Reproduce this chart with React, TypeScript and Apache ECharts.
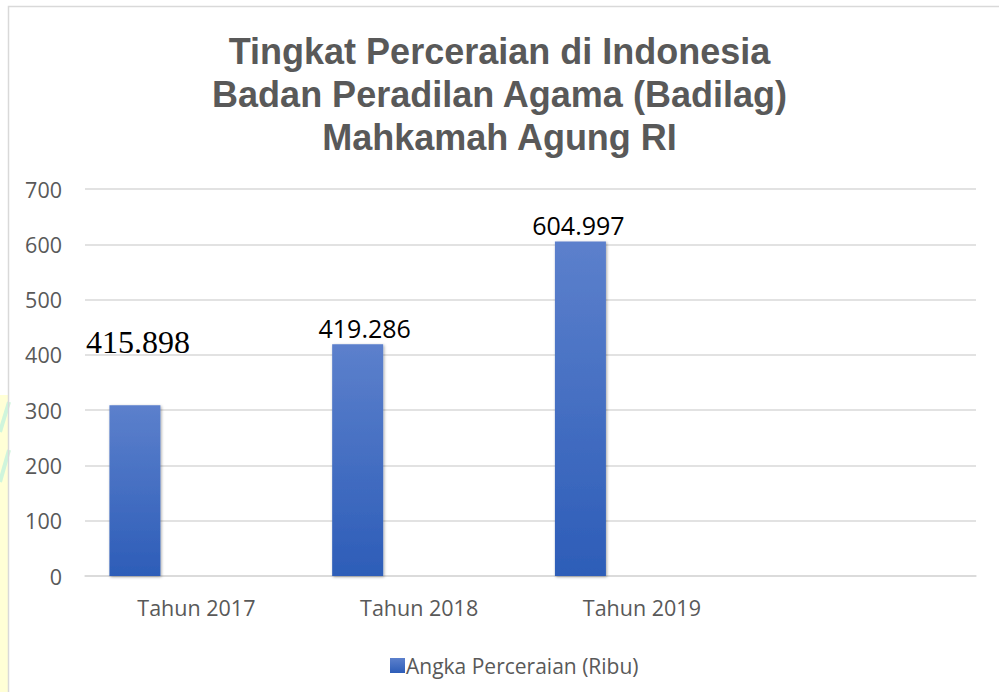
import React, { useEffect, useRef } from "react";
import * as echarts from "echarts";

const titleLines = [
  "Tingkat Perceraian di Indonesia",
  "Badan Peradilan Agama (Badilag)",
  "Mahkamah Agung RI",
];
const categories = ["Tahun 2017", "Tahun 2018", "Tahun 2019", ""];
const barValues = [309, 419.286, 604.997, null];
const labelTexts = ["415.898", "419.286", "604.997", ""];
const seriesName = "Angka Perceraian (Ribu)";
const yTicks = { min: 0, max: 700, interval: 100 };

export default function App() {
  const ref = useRef<HTMLDivElement>(null);
  useEffect(() => {
    if (!ref.current) return;
    const chart = echarts.init(ref.current, null, { renderer: "svg" });
    const grad = new echarts.graphic.LinearGradient(0, 0, 0, 1, [
      { offset: 0, color: "#5C80CC" },
      { offset: 1, color: "#2D5DB8" },
    ]);
    const labelOffsets: [number, number][] = [
      [3, -43],
      [7, 0],
      [-2, 0],
      [0, 0],
    ];
    const data = barValues.map((v, i) => {
      const item: any = { value: v };
      if (i === 0) {
        item.label = {
          fontFamily: "Liberation Serif",
          fontSize: 32,
          offset: labelOffsets[i],
        };
      } else {
        item.label = { offset: labelOffsets[i] };
      }
      return item;
    });
    chart.setOption({
      animation: false,
      backgroundColor: "#ffffff",
      title: {
        text: titleLines.join("\n"),
        left: "center",
        top: 25,
        textStyle: {
          fontFamily: "Liberation Sans",
          fontWeight: "bold",
          fontSize: 36,
          lineHeight: 43,
          color: "#595959",
        },
      },
      graphic: [
        {
          type: "rect",
          shape: { x: 0, y: 395, width: 8, height: 300 },
          style: { fill: "#FFFFD6" },
          z: -1,
        },
        {
          type: "line",
          shape: { x1: 9, y1: 402, x2: 0, y2: 432 },
          style: { stroke: "#CFF5DC", lineWidth: 4 },
          z: -1,
        },
        {
          type: "line",
          shape: { x1: 9, y1: 450, x2: 0, y2: 482 },
          style: { stroke: "#CFF5DC", lineWidth: 4 },
          z: -1,
        },
        {
          type: "rect",
          shape: { x: 8.5, y: 6.5, width: 1200, height: 1000 },
          style: { fill: "none", stroke: "#d9d9d9", lineWidth: 1.5 },
        },
      ],
      legend: {
        data: [seriesName],
        left: 385,
        top: 650,
        icon: "rect",
        itemWidth: 15,
        itemHeight: 15,
        itemGap: 10,
        textStyle: {
          fontFamily: "Open Sans",
          fontSize: 21,
          color: "#595959",
          padding: [0, 0, 0, -4],
        },
      },
      grid: { left: 85, right: 23, top: 189, bottom: 116 },
      xAxis: {
        type: "category",
        data: categories,
        axisLine: { lineStyle: { color: "#d9d9d9", width: 1.5 } },
        axisTick: { show: false },
        axisLabel: {
          fontFamily: "Open Sans",
          fontSize: 21.5,
          color: "#595959",
          margin: 20,
        },
      },
      yAxis: {
        type: "value",
        min: yTicks.min,
        max: yTicks.max,
        interval: yTicks.interval,
        axisLine: { show: false },
        axisTick: { show: false },
        splitLine: { lineStyle: { color: "#d9d9d9", width: 1.5 } },
        axisLabel: {
          fontFamily: "Open Sans",
          fontSize: 21.5,
          color: "#595959",
          margin: 23,
        },
      },
      series: [
        {
          name: seriesName,
          type: "bar",
          data,
          barWidth: 51,
          barGap: "141%",
          itemStyle: {
            color: grad,
            shadowBlur: 3,
            shadowColor: "rgba(0,0,0,0.35)",
            shadowOffsetX: 1,
            shadowOffsetY: 1,
          },
          label: {
            show: true,
            position: "top",
            distance: 4,
            fontFamily: "Open Sans",
            fontSize: 25,
            color: "#000000",
            formatter: (p: any) => labelTexts[p.dataIndex],
          },
        },
        {
          name: "_empty",
          type: "bar",
          data: categories.map(() => null),
          barWidth: 51,
          barGap: "141%",
        },
      ],
    });
    return () => chart.dispose();
  }, []);
  return (
    <div
      ref={ref}
      style={{ position: "absolute", left: 0, top: 0, width: 999, height: 692 }}
    />
  );
}
